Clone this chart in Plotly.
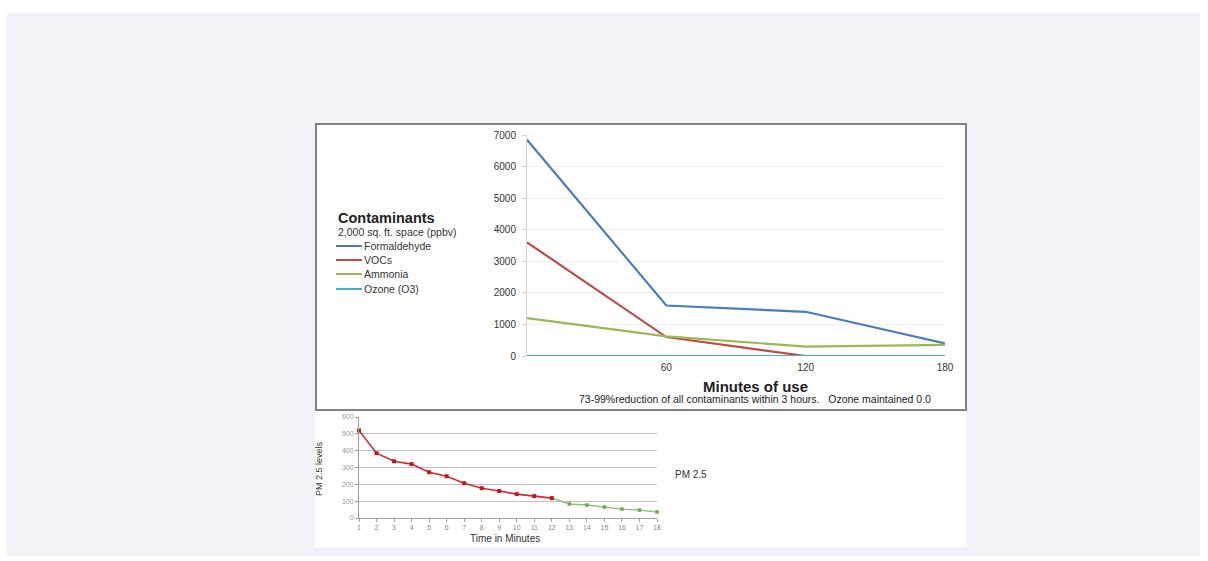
import plotly.graph_objects as go

W, H = 1208, 561

# Contaminant readings (ppbv) over minutes of use
minutes = [0, 60, 120, 180]
formaldehyde = [6850, 1600, 1400, 400]
vocs = [3600, 600, 0, 0]
ammonia = [1200, 620, 300, 350]
ozone = [0, 0, 0, 0]
top_ticks = [60, 120, 180]

# PM 2.5 readings by minute
pm_minutes = list(range(1, 19))
pm_levels = [520, 385, 337, 320, 272, 248, 207, 177, 160, 142, 130, 118,
             83, 77, 65, 53, 47, 36]
split_minute = 12

series = [
    ("Formaldehyde", formaldehyde, "#4a7ebb"),
    ("VOCs", vocs, "#be4b48"),
    ("Ammonia", ammonia, "#98b954"),
    ("Ozone (O3)", ozone, "#4bacc6"),
]


def px(x):
    return x / W


def py(y):
    return 1 - y / H


fig = go.Figure()

for name, vals, col in series:
    fig.add_trace(go.Scatter(x=minutes, y=vals, mode="lines", name=name,
                             line=dict(color=col, width=2.2),
                             xaxis="x", yaxis="y", showlegend=False,
                             cliponaxis=False))

red_x = [m for m in pm_minutes if m <= split_minute]
red_y = pm_levels[:len(red_x)]
green_x = [m for m in pm_minutes if m >= split_minute]
green_y = pm_levels[len(red_x) - 1:]

fig.add_trace(go.Scatter(x=green_x, y=green_y, mode="lines+markers",
                         line=dict(color="#8cc270", width=1.4),
                         marker=dict(symbol="square", size=3.5, color="#6aa84f"),
                         xaxis="x2", yaxis="y2", showlegend=False, cliponaxis=False))
fig.add_trace(go.Scatter(x=red_x, y=red_y, mode="lines+markers",
                         line=dict(color="#d2292f", width=1.6),
                         marker=dict(symbol="square", size=4, color="#b81d24"),
                         xaxis="x2", yaxis="y2", showlegend=False, cliponaxis=False))

shapes = [
    # page background panel
    dict(type="rect", xref="paper", yref="paper", x0=px(7), x1=px(1200),
         y0=py(556), y1=py(13), fillcolor="#f1f2f7", line=dict(width=0), layer="below"),
    # white chart card
    dict(type="rect", xref="paper", yref="paper", x0=px(315), x1=px(967),
         y0=py(547), y1=py(123), fillcolor="#ffffff", line=dict(width=0), layer="below"),
    # frame around contaminants chart
    dict(type="rect", xref="paper", yref="paper", x0=px(316), x1=px(966),
         y0=py(410), y1=py(124), fillcolor="rgba(0,0,0,0)",
         line=dict(color="#828282", width=2), layer="below"),
]

# legend swatches
leg_y = [246, 260, 274, 289]
for (name, _, col), yy in zip(series, leg_y):
    shapes.append(dict(type="line", xref="paper", yref="paper",
                       x0=px(336), x1=px(362), y0=py(yy), y1=py(yy),
                       line=dict(color=col, width=2)))

font = "Liberation Sans, Arial, sans-serif"
annotations = [
    dict(text="<b>Contaminants</b>", x=px(336), y=py(218), xanchor="left", yanchor="middle",
         font=dict(size=14.5, color="#222", family=font)),
    dict(text="2,000 sq. ft. space (ppbv)", x=px(336), y=py(232), xanchor="left", yanchor="middle",
         font=dict(size=10.5, color="#333", family=font)),
    dict(text="<b>Minutes of use</b>", x=px(755), y=py(386), xanchor="center", yanchor="middle",
         font=dict(size=15, color="#222", family=font)),
    dict(text="73-99%reduction of all contaminants within 3 hours.&nbsp;&nbsp; Ozone maintained 0.0",
         x=px(755), y=py(399), xanchor="center", yanchor="middle",
         font=dict(size=10.5, color="#222", family=font)),
    dict(text="Time in Minutes", x=px(505), y=py(538), xanchor="center", yanchor="middle",
         font=dict(size=10, color="#333", family=font)),
    dict(text="PM 2.5", x=px(673), y=py(474), xanchor="left", yanchor="middle",
         font=dict(size=10, color="#333", family=font)),
    dict(text="PM 2.5 levels", x=px(319), y=py(469), xanchor="center", yanchor="middle",
         textangle=-90, font=dict(size=9, color="#333",
                                  family="Liberation Sans Narrow, Arial Narrow, sans-serif")),
]
for (name, _, col), yy in zip(series, leg_y):
    annotations.append(dict(text=name, x=px(362), y=py(yy), xanchor="left", yanchor="middle",
                            font=dict(size=10.5, color="#333", family=font)))
for a in annotations:
    a.update(xref="paper", yref="paper", showarrow=False)

fig.update_layout(
    width=W, height=H,
    margin=dict(l=0, r=0, t=0, b=0, pad=0, autoexpand=False),
    paper_bgcolor="#ffffff", plot_bgcolor="rgba(0,0,0,0)",
    shapes=shapes, annotations=annotations,
    xaxis=dict(domain=[px(527), px(945)], range=[0, 180], tickvals=top_ticks,
               showgrid=False, zeroline=False, showline=False, automargin=False,
               ticks="", tickfont=dict(size=10, color="#333", family=font), anchor="y",
               ticklabelstandoff=4),
    yaxis=dict(domain=[py(356), py(135)], range=[0, 7000], dtick=1000,
               showgrid=True, gridcolor="#f0f0f0", gridwidth=1, zeroline=False,
               showline=True, linecolor="#d0d0d0", linewidth=1, automargin=False,
               ticks="outside", ticklen=4, tickcolor="#d0d0d0",
               tickfont=dict(size=10, color="#333", family=font), anchor="x",
               ticklabelstandoff=4),
    xaxis2=dict(domain=[px(359), px(657)], range=[1, 18], dtick=1, automargin=False,
                showgrid=False, zeroline=False, showline=True, linecolor="#a0a0a0",
                linewidth=1, ticks="outside", ticklen=3, tickcolor="#a0a0a0",
                tickfont=dict(size=7, color="#888", family=font), anchor="y2"),
    yaxis2=dict(domain=[py(518), py(417)], range=[0, 600], dtick=100, automargin=False,
                showgrid=True, gridcolor="#c0c0c0", gridwidth=1, zeroline=False,
                showline=True, linecolor="#a0a0a0", linewidth=1,
                ticks="outside", ticklen=3, tickcolor="#a0a0a0",
                tickfont=dict(size=7, color="#999", family=font), anchor="x2"),
)

fig.write_html("out.html")
